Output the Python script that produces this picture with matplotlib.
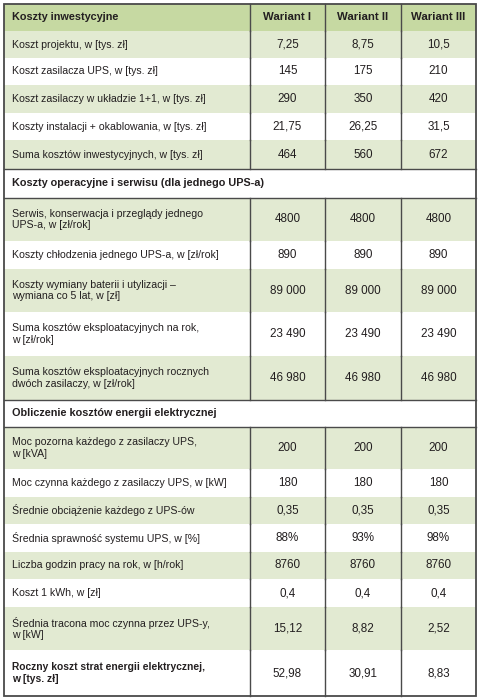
import matplotlib
matplotlib.use("Agg")
import matplotlib.pyplot as plt
from matplotlib.patches import Rectangle

FONT = ["Liberation Sans Narrow", "Liberation Sans", "DejaVu Sans"]

# column headers
header = ["Koszty inwestycyjne", "Wariant I", "Wariant II", "Wariant III"]

labels = [
    "Koszt projektu, w [tys. zł]",
    "Koszt zasilacza UPS, w [tys. zł]",
    "Koszt zasilaczy w układzie 1+1, w [tys. zł]",
    "Koszty instalacji + okablowania, w [tys. zł]",
    "Suma kosztów inwestycyjnych, w [tys. zł]",
    "Koszty operacyjne i serwisu (dla jednego UPS-a)",
    "Serwis, konserwacja i przeglądy jednego\nUPS-a, w [zł/rok]",
    "Koszty chłodzenia jednego UPS-a, w [zł/rok]",
    "Koszty wymiany baterii i utylizacji –\nwymiana co 5 lat, w [zł]",
    "Suma kosztów eksploatacyjnych na rok,\nw [zł/rok]",
    "Suma kosztów eksploatacyjnych rocznych\ndwóch zasilaczy, w [zł/rok]",
    "Obliczenie kosztów energii elektrycznej",
    "Moc pozorna każdego z zasilaczy UPS,\nw [kVA]",
    "Moc czynna każdego z zasilaczy UPS, w [kW]",
    "Średnie obciążenie każdego z UPS-ów",
    "Średnia sprawność systemu UPS, w [%]",
    "Liczba godzin pracy na rok, w [h/rok]",
    "Koszt 1 kWh, w [zł]",
    "Średnia tracona moc czynna przez UPS-y,\nw [kW]",
    "Roczny koszt strat energii elektrycznej,\nw [tys. zł]",
]
wariant_1 = ["7,25", "145", "290", "21,75", "464", None, "4800", "890", "89 000", "23 490", "46 980",
             None, "200", "180", "0,35", "88%", "8760", "0,4", "15,12", "52,98"]
wariant_2 = ["8,75", "175", "350", "26,25", "560", None, "4800", "890", "89 000", "23 490", "46 980",
             None, "200", "180", "0,35", "93%", "8760", "0,4", "8,82", "30,91"]
wariant_3 = ["10,5", "210", "420", "31,5", "672", None, "4800", "890", "89 000", "23 490", "46 980",
             None, "200", "180", "0,35", "98%", "8760", "0,4", "2,52", "8,83"]

# row edges in pixels (top of table -> bottom)
row_edges = [4, 31, 58, 85, 113, 140, 169, 198, 241, 269, 312, 356, 400,
             427, 469, 497, 524, 552, 579, 607, 650, 696]
col_edges = [4, 250, 325, 401, 476]

GREEN_HEAD = "#c6d9a2"
GREEN_ROW = "#e2ead2"
LINE = "#4a4a4a"
TEXT = "#231f20"
FS_LABEL = 7.6
FS_VAL = 8.4

fig = plt.figure(figsize=(4.79, 7.0), dpi=100)
ax = fig.add_axes([0, 0, 1, 1])
ax.set_xlim(0, 479)
ax.set_ylim(700, 0)
ax.axis("off")

# header row
y0, y1 = row_edges[0], row_edges[1]
ax.add_patch(Rectangle((col_edges[0], y0), col_edges[-1] - col_edges[0], y1 - y0,
                       facecolor=GREEN_HEAD, edgecolor="none"))
ax.text(12, (y0 + y1) / 2, header[0], ha="left", va="center", fontsize=7.8,
        fontweight="bold", family=FONT, color=TEXT)
for j in range(3):
    ax.text((col_edges[j + 1] + col_edges[j + 2]) / 2, (y0 + y1) / 2, header[j + 1],
            ha="center", va="center", fontsize=8.2, fontweight="bold", family=FONT, color=TEXT)
for x in col_edges[1:-1]:
    ax.plot([x, x], [y0, y1], color=LINE, lw=1)

shade = True
for i, lab in enumerate(labels):
    y0, y1 = row_edges[i + 1], row_edges[i + 2]
    yc = (y0 + y1) / 2
    vals = [wariant_1[i], wariant_2[i], wariant_3[i]]
    if vals[0] is None:
        ax.text(12, yc, lab, ha="left", va="center", fontsize=7.8, fontweight="bold",
                family=FONT, color=TEXT)
        ax.plot([col_edges[0], col_edges[-1]], [y0, y0], color=LINE, lw=1)
        ax.plot([col_edges[0], col_edges[-1]], [y1, y1], color=LINE, lw=1)
        shade = True
        continue
    if shade:
        ax.add_patch(Rectangle((col_edges[0], y0), col_edges[-1] - col_edges[0], y1 - y0,
                               facecolor=GREEN_ROW, edgecolor="none"))
    shade = not shade
    bold = lab.startswith("Roczny")
    ax.text(12, yc, lab, ha="left", va="center", fontsize=FS_LABEL - (0.2 if bold else 0),
            linespacing=1.2, fontweight="bold" if bold else "normal", family=FONT, color=TEXT)
    for j, v in enumerate(vals):
        ax.text((col_edges[j + 1] + col_edges[j + 2]) / 2, yc, v, ha="center", va="center",
                fontsize=FS_VAL, family=FONT, color=TEXT)
    for x in col_edges[1:-1]:
        ax.plot([x, x], [y0, y1], color=LINE, lw=1)

ax.add_patch(Rectangle((col_edges[0], row_edges[0]), col_edges[-1] - col_edges[0],
                       row_edges[-1] - row_edges[0], facecolor="none", edgecolor=LINE, lw=1.3))

fig.savefig("out.png", dpi=100)
